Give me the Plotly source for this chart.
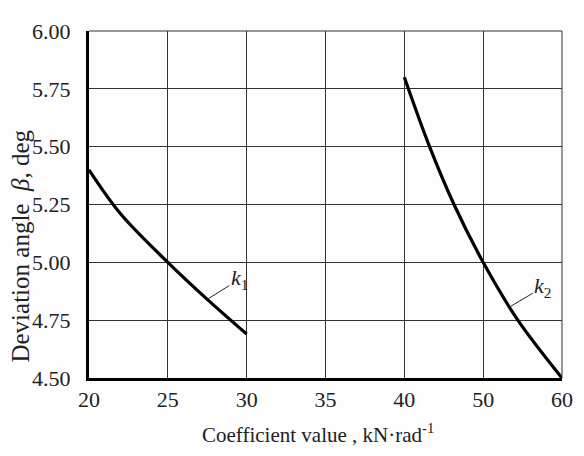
import numpy as np
import plotly.graph_objects as go

# Tick labels (non-uniform scale: each label is one equal step on the axis)
x_tick_values = [20, 25, 30, 35, 40, 50, 60]
x_tick_labels = ["20", "25", "30", "35", "40", "50", "60"]
y_tick_values = [4.50, 4.75, 5.00, 5.25, 5.50, 5.75, 6.00]
y_tick_labels = ["4.50", "4.75", "5.00", "5.25", "5.50", "5.75", "6.00"]

# Curve k1
k1_x = [20, 22, 25, 27.5, 30]
k1_y = [5.40, 5.21, 5.00, 4.84, 4.69]
# Curve k2
k2_x = [40, 43.2, 46.3, 50, 54.4, 60]
k2_y = [5.80, 5.50, 5.25, 5.00, 4.75, 4.50]

# Map real coefficient values onto the equally spaced tick positions
tick_pos = list(range(len(x_tick_values)))
def to_axis(vals):
    return np.interp(vals, x_tick_values, tick_pos)

FONT = "Liberation Serif, Times New Roman, serif"
TXT = "#222"

fig = go.Figure()
for xs, ys in ((k1_x, k1_y), (k2_x, k2_y)):
    fig.add_trace(go.Scatter(x=to_axis(xs), y=ys, mode="lines",
                             line=dict(color="black", width=3.2, shape="spline", smoothing=1.0),
                             showlegend=False, hoverinfo="skip"))

# The page body has an 8px default margin, so the figure is sized/margined to compensate
fig.update_layout(
    width=576, height=440,
    margin=dict(l=81, r=11, t=15, b=70),
    paper_bgcolor="#fdfdfd", plot_bgcolor="#fdfdfd",
    font=dict(family=FONT, size=22, color=TXT),
    showlegend=False,
)
fig.update_xaxes(range=[0, 6], tickvals=tick_pos, ticktext=x_tick_labels,
                 showgrid=True, gridcolor="#333", gridwidth=1,
                 showline=True, linecolor="black", linewidth=3,
                 zeroline=False, ticks="",
                 tickfont=dict(family=FONT, size=22, color=TXT))
fig.update_yaxes(range=[4.5, 6.0], tickvals=y_tick_values, ticktext=y_tick_labels,
                 showgrid=True, gridcolor="#333", gridwidth=1,
                 showline=True, linecolor="black", linewidth=3,
                 zeroline=False, ticks="", ticklabelstandoff=11,
                 tickfont=dict(family=FONT, size=22, color=TXT))

# Top and right frame lines (thin, like the grid)
fig.add_shape(type="line", xref="paper", yref="paper", x0=0, x1=1, y0=1, y1=1,
              line=dict(color="#333", width=1))
fig.add_shape(type="line", xref="paper", yref="paper", x0=1, x1=1, y0=0, y1=1,
              line=dict(color="#333", width=1))

# Curve labels
fig.add_annotation(x=to_axis(27.5), y=4.84, text="<i>k</i><sub>1</sub>",
                   showarrow=True, arrowhead=0, arrowwidth=1, arrowcolor=TXT,
                   ax=32, ay=-20, font=dict(family=FONT, size=22, color=TXT))
fig.add_annotation(x=to_axis(53.5), y=4.81, text="<i>k</i><sub>2</sub>",
                   showarrow=True, arrowhead=0, arrowwidth=1, arrowcolor=TXT,
                   ax=32, ay=-19, font=dict(family=FONT, size=22, color=TXT))

# Axis titles
fig.add_annotation(xref="paper", yref="paper", x=-0.145, y=0.38,
                   xanchor="center", yanchor="middle",
                   text="Deviation angle  <i>β</i>, deg", textangle=-90,
                   showarrow=False, font=dict(family=FONT, size=25, color=TXT))
fig.add_annotation(xref="paper", yref="paper", x=0.485, y=-0.16,
                   xanchor="center", yanchor="middle",
                   text="Coefficient value , kN·rad<sup>-1</sup>",
                   showarrow=False, font=dict(family=FONT, size=21, color=TXT))

fig.write_html("out.html")
